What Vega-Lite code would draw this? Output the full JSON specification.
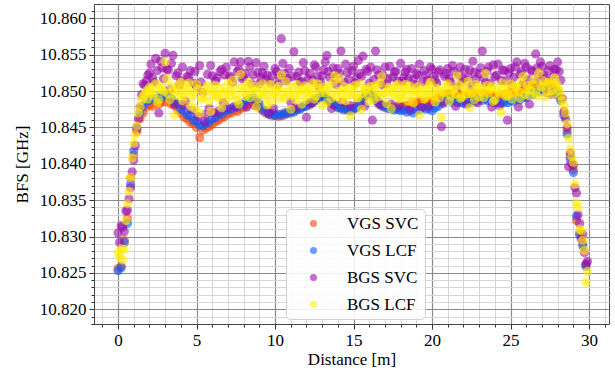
{
"$schema":"https://vega.github.io/schema/vega-lite/v6.json",
"width":515,"height":320,
"autosize":"none",
"padding":{"left":94,"top":4,"right":6,"bottom":48},
"background":"white",
"config":{"view":{"stroke":"#444","strokeWidth":1},"font":"Liberation Serif"},
"datasets":{
"vgs_svc":[{"x":0.0,"y":10.8256},{"x":0.2,"y":10.8259},{"x":0.4,"y":10.8295},{"x":0.6,"y":10.8325},{"x":0.8,"y":10.838},{"x":1.0,"y":10.8412},{"x":1.2,"y":10.8444},{"x":1.4,"y":10.8462},{"x":1.6,"y":10.847},{"x":1.8,"y":10.8478},{"x":2.0,"y":10.8481},{"x":2.2,"y":10.8479},{"x":2.4,"y":10.8484},{"x":2.6,"y":10.8482},{"x":2.8,"y":10.8486},{"x":3.0,"y":10.8485},{"x":3.2,"y":10.8489},{"x":3.4,"y":10.8482},{"x":3.6,"y":10.848},{"x":3.8,"y":10.8474},{"x":4.0,"y":10.847},{"x":4.2,"y":10.8464},{"x":4.4,"y":10.8462},{"x":4.6,"y":10.8457},{"x":4.8,"y":10.8455},{"x":5.0,"y":10.845},{"x":5.2,"y":10.8436},{"x":5.4,"y":10.8446},{"x":5.6,"y":10.8449},{"x":5.8,"y":10.8451},{"x":6.0,"y":10.8454},{"x":6.2,"y":10.8458},{"x":6.4,"y":10.846},{"x":6.6,"y":10.8463},{"x":6.8,"y":10.8465},{"x":7.0,"y":10.8469},{"x":7.2,"y":10.847},{"x":7.4,"y":10.8473},{"x":7.6,"y":10.8472},{"x":7.8,"y":10.8476},{"x":8.0,"y":10.8477},{"x":8.2,"y":10.848},{"x":8.4,"y":10.8484},{"x":8.6,"y":10.8485},{"x":8.8,"y":10.8482},{"x":9.0,"y":10.8478},{"x":9.2,"y":10.8473},{"x":9.4,"y":10.847},{"x":9.6,"y":10.8468},{"x":9.8,"y":10.8466},{"x":10.0,"y":10.8467},{"x":10.2,"y":10.8465},{"x":10.4,"y":10.8468},{"x":10.6,"y":10.8467},{"x":10.8,"y":10.8471},{"x":11.0,"y":10.847},{"x":11.2,"y":10.8473},{"x":11.4,"y":10.8474},{"x":11.6,"y":10.8477},{"x":11.8,"y":10.8478},{"x":12.0,"y":10.8481},{"x":12.2,"y":10.8481},{"x":12.4,"y":10.8486},{"x":12.6,"y":10.8487},{"x":12.8,"y":10.8491},{"x":13.0,"y":10.8492},{"x":13.2,"y":10.8491},{"x":13.4,"y":10.8486},{"x":13.6,"y":10.8485},{"x":13.8,"y":10.848},{"x":14.0,"y":10.8479},{"x":14.2,"y":10.8476},{"x":14.4,"y":10.8477},{"x":14.6,"y":10.8474},{"x":14.8,"y":10.8476},{"x":15.0,"y":10.8475},{"x":15.2,"y":10.8479},{"x":15.4,"y":10.8482},{"x":15.6,"y":10.849},{"x":15.8,"y":10.8494},{"x":16.0,"y":10.8498},{"x":16.2,"y":10.8493},{"x":16.4,"y":10.849},{"x":16.6,"y":10.8482},{"x":16.8,"y":10.8481},{"x":17.0,"y":10.8477},{"x":17.2,"y":10.8479},{"x":17.4,"y":10.8476},{"x":17.6,"y":10.8478},{"x":17.8,"y":10.8476},{"x":18.0,"y":10.8477},{"x":18.2,"y":10.8479},{"x":18.4,"y":10.848},{"x":18.6,"y":10.8482},{"x":18.8,"y":10.8485},{"x":19.0,"y":10.8484},{"x":19.2,"y":10.8486},{"x":19.4,"y":10.8484},{"x":19.6,"y":10.8486},{"x":19.8,"y":10.8485},{"x":20.0,"y":10.8487},{"x":20.2,"y":10.8488},{"x":20.4,"y":10.8491},{"x":20.6,"y":10.8494},{"x":20.8,"y":10.8495},{"x":21.0,"y":10.8497},{"x":21.2,"y":10.8495},{"x":21.4,"y":10.8496},{"x":21.6,"y":10.8493},{"x":21.8,"y":10.8495},{"x":22.0,"y":10.8494},{"x":22.2,"y":10.8496},{"x":22.4,"y":10.8495},{"x":22.6,"y":10.8497},{"x":22.8,"y":10.8496},{"x":23.0,"y":10.8498},{"x":23.2,"y":10.8496},{"x":23.4,"y":10.8497},{"x":23.6,"y":10.8495},{"x":23.8,"y":10.8494},{"x":24.0,"y":10.8492},{"x":24.2,"y":10.8494},{"x":24.4,"y":10.8493},{"x":24.6,"y":10.8495},{"x":24.8,"y":10.8496},{"x":25.0,"y":10.8498},{"x":25.2,"y":10.8497},{"x":25.4,"y":10.8499},{"x":25.6,"y":10.85},{"x":25.8,"y":10.8502},{"x":26.0,"y":10.8501},{"x":26.2,"y":10.8504},{"x":26.4,"y":10.8506},{"x":26.6,"y":10.8505},{"x":26.8,"y":10.8507},{"x":27.0,"y":10.8506},{"x":27.2,"y":10.8508},{"x":27.4,"y":10.8507},{"x":27.6,"y":10.8508},{"x":27.8,"y":10.8505},{"x":28.0,"y":10.85},{"x":28.2,"y":10.849},{"x":28.4,"y":10.847},{"x":28.6,"y":10.8445},{"x":28.8,"y":10.841},{"x":29.0,"y":10.8392},{"x":29.2,"y":10.8322},{"x":29.4,"y":10.8305},{"x":29.6,"y":10.829},{"x":29.8,"y":10.8262}],
"vgs_lcf":[{"x":0.0,"y":10.8253},{"x":0.2,"y":10.8257},{"x":0.4,"y":10.8292},{"x":0.6,"y":10.8318},{"x":0.8,"y":10.8372},{"x":1.0,"y":10.8418},{"x":1.2,"y":10.845},{"x":1.4,"y":10.847},{"x":1.6,"y":10.8479},{"x":1.8,"y":10.8486},{"x":2.0,"y":10.8487},{"x":2.2,"y":10.849},{"x":2.4,"y":10.8489},{"x":2.6,"y":10.8492},{"x":2.8,"y":10.8491},{"x":3.0,"y":10.8495},{"x":3.2,"y":10.8494},{"x":3.4,"y":10.849},{"x":3.6,"y":10.8485},{"x":3.8,"y":10.8482},{"x":4.0,"y":10.8475},{"x":4.2,"y":10.8473},{"x":4.4,"y":10.8467},{"x":4.6,"y":10.8466},{"x":4.8,"y":10.846},{"x":5.0,"y":10.8458},{"x":5.2,"y":10.8453},{"x":5.4,"y":10.8452},{"x":5.6,"y":10.8456},{"x":5.8,"y":10.8457},{"x":6.0,"y":10.8462},{"x":6.2,"y":10.8463},{"x":6.4,"y":10.8468},{"x":6.6,"y":10.8468},{"x":6.8,"y":10.8473},{"x":7.0,"y":10.8474},{"x":7.2,"y":10.8475},{"x":7.4,"y":10.8479},{"x":7.6,"y":10.8478},{"x":7.8,"y":10.8482},{"x":8.0,"y":10.8482},{"x":8.2,"y":10.8487},{"x":8.4,"y":10.8489},{"x":8.6,"y":10.8492},{"x":8.8,"y":10.8487},{"x":9.0,"y":10.8483},{"x":9.2,"y":10.8475},{"x":9.4,"y":10.8472},{"x":9.6,"y":10.8468},{"x":9.8,"y":10.8469},{"x":10.0,"y":10.8466},{"x":10.2,"y":10.8468},{"x":10.4,"y":10.8466},{"x":10.6,"y":10.847},{"x":10.8,"y":10.8469},{"x":11.0,"y":10.8472},{"x":11.2,"y":10.8471},{"x":11.4,"y":10.8475},{"x":11.6,"y":10.8475},{"x":11.8,"y":10.8479},{"x":12.0,"y":10.8479},{"x":12.2,"y":10.8483},{"x":12.4,"y":10.8484},{"x":12.6,"y":10.8489},{"x":12.8,"y":10.849},{"x":13.0,"y":10.8494},{"x":13.2,"y":10.8489},{"x":13.4,"y":10.8488},{"x":13.6,"y":10.8483},{"x":13.8,"y":10.8481},{"x":14.0,"y":10.8477},{"x":14.2,"y":10.8477},{"x":14.4,"y":10.8474},{"x":14.6,"y":10.8475},{"x":14.8,"y":10.8473},{"x":15.0,"y":10.8476},{"x":15.2,"y":10.8477},{"x":15.4,"y":10.8484},{"x":15.6,"y":10.8489},{"x":15.8,"y":10.8497},{"x":16.0,"y":10.8496},{"x":16.2,"y":10.8495},{"x":16.4,"y":10.8487},{"x":16.6,"y":10.8484},{"x":16.8,"y":10.8479},{"x":17.0,"y":10.8479},{"x":17.2,"y":10.8476},{"x":17.4,"y":10.8477},{"x":17.6,"y":10.8474},{"x":17.8,"y":10.8475},{"x":18.0,"y":10.8473},{"x":18.2,"y":10.8474},{"x":18.4,"y":10.8471},{"x":18.6,"y":10.8473},{"x":18.8,"y":10.847},{"x":19.0,"y":10.8474},{"x":19.2,"y":10.8474},{"x":19.4,"y":10.8477},{"x":19.6,"y":10.8475},{"x":19.8,"y":10.8476},{"x":20.0,"y":10.8473},{"x":20.2,"y":10.8477},{"x":20.4,"y":10.8479},{"x":20.6,"y":10.8485},{"x":20.8,"y":10.8486},{"x":21.0,"y":10.8489},{"x":21.2,"y":10.8486},{"x":21.4,"y":10.8487},{"x":21.6,"y":10.8484},{"x":21.8,"y":10.8485},{"x":22.0,"y":10.8483},{"x":22.2,"y":10.8485},{"x":22.4,"y":10.8484},{"x":22.6,"y":10.8487},{"x":22.8,"y":10.8486},{"x":23.0,"y":10.8489},{"x":23.2,"y":10.8487},{"x":23.4,"y":10.8489},{"x":23.6,"y":10.8486},{"x":23.8,"y":10.8487},{"x":24.0,"y":10.8484},{"x":24.2,"y":10.8485},{"x":24.4,"y":10.8483},{"x":24.6,"y":10.8485},{"x":24.8,"y":10.8484},{"x":25.0,"y":10.8487},{"x":25.2,"y":10.8486},{"x":25.4,"y":10.8489},{"x":25.6,"y":10.8488},{"x":25.8,"y":10.8491},{"x":26.0,"y":10.8491},{"x":26.2,"y":10.8495},{"x":26.4,"y":10.8495},{"x":26.6,"y":10.8499},{"x":26.8,"y":10.8499},{"x":27.0,"y":10.8502},{"x":27.2,"y":10.85},{"x":27.4,"y":10.8501},{"x":27.6,"y":10.8498},{"x":27.8,"y":10.8499},{"x":28.0,"y":10.8495},{"x":28.2,"y":10.8487},{"x":28.4,"y":10.8466},{"x":28.6,"y":10.8441},{"x":28.8,"y":10.8406},{"x":29.0,"y":10.8388},{"x":29.2,"y":10.8328},{"x":29.4,"y":10.8302},{"x":29.6,"y":10.8287},{"x":29.8,"y":10.8259}],
"bgs_svc":[{"x":0.0,"y":10.8305},{"x":0.2,"y":10.8315},{"x":0.4,"y":10.8307},{"x":0.6,"y":10.8336},{"x":0.8,"y":10.8367},{"x":1.0,"y":10.8405},{"x":1.2,"y":10.8448},{"x":1.4,"y":10.8478},{"x":1.6,"y":10.851},{"x":1.8,"y":10.8514},{"x":2.0,"y":10.8525},{"x":2.2,"y":10.8518},{"x":2.4,"y":10.8545},{"x":2.6,"y":10.847},{"x":2.8,"y":10.8532},{"x":3.0,"y":10.8552},{"x":3.2,"y":10.8529},{"x":3.4,"y":10.8538},{"x":3.6,"y":10.8482},{"x":3.8,"y":10.8525},{"x":4.0,"y":10.8514},{"x":4.2,"y":10.848},{"x":4.4,"y":10.852},{"x":4.6,"y":10.8528},{"x":4.8,"y":10.8511},{"x":5.0,"y":10.8506},{"x":5.2,"y":10.8535},{"x":5.4,"y":10.8498},{"x":5.6,"y":10.8468},{"x":5.8,"y":10.8476},{"x":6.0,"y":10.8521},{"x":6.2,"y":10.8514},{"x":6.4,"y":10.8472},{"x":6.6,"y":10.853},{"x":6.8,"y":10.8522},{"x":7.0,"y":10.8477},{"x":7.2,"y":10.8518},{"x":7.4,"y":10.854},{"x":7.6,"y":10.8527},{"x":7.8,"y":10.854},{"x":8.0,"y":10.8519},{"x":8.2,"y":10.8478},{"x":8.4,"y":10.8533},{"x":8.6,"y":10.8522},{"x":8.8,"y":10.8539},{"x":9.0,"y":10.851},{"x":9.2,"y":10.8525},{"x":9.4,"y":10.8516},{"x":9.6,"y":10.847},{"x":9.8,"y":10.8521},{"x":10.0,"y":10.8531},{"x":10.2,"y":10.8509},{"x":10.4,"y":10.8572},{"x":10.6,"y":10.8524},{"x":10.8,"y":10.8517},{"x":11.0,"y":10.8485},{"x":11.2,"y":10.8554},{"x":11.4,"y":10.852},{"x":11.6,"y":10.8512},{"x":11.8,"y":10.8539},{"x":12.0,"y":10.8464},{"x":12.2,"y":10.8524},{"x":12.4,"y":10.8515},{"x":12.6,"y":10.8533},{"x":12.8,"y":10.8506},{"x":13.0,"y":10.8521},{"x":13.2,"y":10.854},{"x":13.4,"y":10.8527},{"x":13.6,"y":10.8476},{"x":13.8,"y":10.8519},{"x":14.0,"y":10.8531},{"x":14.2,"y":10.8555},{"x":14.4,"y":10.8512},{"x":14.6,"y":10.8526},{"x":14.8,"y":10.848},{"x":15.0,"y":10.8534},{"x":15.2,"y":10.8518},{"x":15.4,"y":10.8524},{"x":15.6,"y":10.8548},{"x":15.8,"y":10.853},{"x":16.0,"y":10.8511},{"x":16.2,"y":10.846},{"x":16.4,"y":10.8555},{"x":16.6,"y":10.8522},{"x":16.8,"y":10.8509},{"x":17.0,"y":10.8533},{"x":17.2,"y":10.8517},{"x":17.4,"y":10.8482},{"x":17.6,"y":10.8526},{"x":17.8,"y":10.8514},{"x":18.0,"y":10.8538},{"x":18.2,"y":10.8519},{"x":18.4,"y":10.853},{"x":18.6,"y":10.8475},{"x":18.8,"y":10.8516},{"x":19.0,"y":10.8524},{"x":19.2,"y":10.8537},{"x":19.4,"y":10.8512},{"x":19.6,"y":10.8522},{"x":19.8,"y":10.8479},{"x":20.0,"y":10.853},{"x":20.2,"y":10.8515},{"x":20.4,"y":10.8526},{"x":20.6,"y":10.8451},{"x":20.8,"y":10.852},{"x":21.0,"y":10.8531},{"x":21.2,"y":10.8512},{"x":21.4,"y":10.8527},{"x":21.6,"y":10.8505},{"x":21.8,"y":10.8533},{"x":22.0,"y":10.8518},{"x":22.2,"y":10.8482},{"x":22.4,"y":10.8529},{"x":22.6,"y":10.8541},{"x":22.8,"y":10.8516},{"x":23.0,"y":10.8524},{"x":23.2,"y":10.8555},{"x":23.4,"y":10.8511},{"x":23.6,"y":10.8533},{"x":23.8,"y":10.8478},{"x":24.0,"y":10.852},{"x":24.2,"y":10.8537},{"x":24.4,"y":10.8515},{"x":24.6,"y":10.8528},{"x":24.8,"y":10.846},{"x":25.0,"y":10.8531},{"x":25.2,"y":10.8519},{"x":25.4,"y":10.854},{"x":25.6,"y":10.8523},{"x":25.8,"y":10.851},{"x":26.0,"y":10.8533},{"x":26.2,"y":10.8482},{"x":26.4,"y":10.8527},{"x":26.6,"y":10.8551},{"x":26.8,"y":10.852},{"x":27.0,"y":10.8534},{"x":27.2,"y":10.8517},{"x":27.4,"y":10.8528},{"x":27.6,"y":10.8496},{"x":27.8,"y":10.853},{"x":28.0,"y":10.854},{"x":28.2,"y":10.8515},{"x":28.4,"y":10.8472},{"x":28.6,"y":10.845},{"x":28.8,"y":10.8415},{"x":29.0,"y":10.8398},{"x":29.2,"y":10.836},{"x":29.4,"y":10.8318},{"x":29.6,"y":10.8303},{"x":29.8,"y":10.8262},
{"x":0.1,"y":10.8292},{"x":0.3,"y":10.8313},{"x":0.5,"y":10.8335},{"x":0.7,"y":10.8352},{"x":0.9,"y":10.8389},{"x":1.1,"y":10.8425},{"x":1.3,"y":10.8462},{"x":1.5,"y":10.8495},{"x":1.7,"y":10.8508},{"x":1.9,"y":10.8522},{"x":2.1,"y":10.8537},{"x":2.3,"y":10.8512},{"x":2.5,"y":10.8528},{"x":2.7,"y":10.8541},{"x":2.9,"y":10.8517},{"x":3.1,"y":10.853},{"x":3.3,"y":10.8502},{"x":3.5,"y":10.8549},{"x":3.7,"y":10.8521},{"x":3.9,"y":10.8508},{"x":4.1,"y":10.8533},{"x":4.3,"y":10.8486},{"x":4.5,"y":10.8519},{"x":4.7,"y":10.8474},{"x":4.9,"y":10.8527},{"x":5.1,"y":10.8465},{"x":5.3,"y":10.8512},{"x":5.5,"y":10.8458},{"x":5.7,"y":10.8523},{"x":5.9,"y":10.8535},{"x":6.1,"y":10.847},{"x":6.3,"y":10.8518},{"x":6.5,"y":10.8527},{"x":6.7,"y":10.8484},{"x":6.9,"y":10.8533},{"x":7.1,"y":10.8521},{"x":7.3,"y":10.8512},{"x":7.5,"y":10.8478},{"x":7.7,"y":10.853},{"x":7.9,"y":10.8517},{"x":8.1,"y":10.8524},{"x":8.3,"y":10.8541},{"x":8.5,"y":10.851},{"x":8.7,"y":10.848},{"x":8.9,"y":10.8526},{"x":9.1,"y":10.8518},{"x":9.3,"y":10.8534},{"x":9.5,"y":10.8522},{"x":9.7,"y":10.8511},{"x":9.9,"y":10.8476},{"x":10.1,"y":10.8527},{"x":10.3,"y":10.8519},{"x":10.5,"y":10.8538},{"x":10.7,"y":10.8514},{"x":10.9,"y":10.8531},{"x":11.1,"y":10.852},{"x":11.3,"y":10.8477},{"x":11.5,"y":10.8526},{"x":11.7,"y":10.8513},{"x":11.9,"y":10.8528},{"x":12.1,"y":10.8517},{"x":12.3,"y":10.8483},{"x":12.5,"y":10.8536},{"x":12.7,"y":10.8521},{"x":12.9,"y":10.8512},{"x":13.1,"y":10.8529},{"x":13.3,"y":10.8549},{"x":13.5,"y":10.8518},{"x":13.7,"y":10.8532},{"x":13.9,"y":10.8509},{"x":14.1,"y":10.8524},{"x":14.3,"y":10.8485},{"x":14.5,"y":10.8537},{"x":14.7,"y":10.8516},{"x":14.9,"y":10.8528},{"x":15.1,"y":10.8511},{"x":15.3,"y":10.8542},{"x":15.5,"y":10.852},{"x":15.7,"y":10.8479},{"x":15.9,"y":10.8527},{"x":16.1,"y":10.8533},{"x":16.3,"y":10.8516},{"x":16.5,"y":10.8529},{"x":16.7,"y":10.8482},{"x":16.9,"y":10.8521},{"x":17.1,"y":10.851},{"x":17.3,"y":10.8534},{"x":17.5,"y":10.8519},{"x":17.7,"y":10.8527},{"x":17.9,"y":10.848},{"x":18.1,"y":10.8513},{"x":18.3,"y":10.8526},{"x":18.5,"y":10.8518},{"x":18.7,"y":10.8531},{"x":18.9,"y":10.8509},{"x":19.1,"y":10.8522},{"x":19.3,"y":10.8477},{"x":19.5,"y":10.8528},{"x":19.7,"y":10.8515},{"x":19.9,"y":10.8533},{"x":20.1,"y":10.852},{"x":20.3,"y":10.8511},{"x":20.5,"y":10.8529},{"x":20.7,"y":10.8483},{"x":20.9,"y":10.8524},{"x":21.1,"y":10.8517},{"x":21.3,"y":10.8535},{"x":21.5,"y":10.8479},{"x":21.7,"y":10.8522},{"x":21.9,"y":10.8512},{"x":22.1,"y":10.853},{"x":22.3,"y":10.8519},{"x":22.5,"y":10.8507},{"x":22.7,"y":10.8526},{"x":22.9,"y":10.8484},{"x":23.1,"y":10.8532},{"x":23.3,"y":10.8518},{"x":23.5,"y":10.8527},{"x":23.7,"y":10.8511},{"x":23.9,"y":10.8536},{"x":24.1,"y":10.8522},{"x":24.3,"y":10.848},{"x":24.5,"y":10.8529},{"x":24.7,"y":10.8514},{"x":24.9,"y":10.8525},{"x":25.1,"y":10.8508},{"x":25.3,"y":10.8533},{"x":25.5,"y":10.8478},{"x":25.7,"y":10.8527},{"x":25.9,"y":10.8538},{"x":26.1,"y":10.8516},{"x":26.3,"y":10.8529},{"x":26.5,"y":10.8511},{"x":26.7,"y":10.8532},{"x":26.9,"y":10.854},{"x":27.1,"y":10.8522},{"x":27.3,"y":10.8498},{"x":27.5,"y":10.8535},{"x":27.7,"y":10.8519},{"x":27.9,"y":10.8529},{"x":28.1,"y":10.8527},{"x":28.3,"y":10.849},{"x":28.5,"y":10.8462},{"x":28.7,"y":10.8396},{"x":28.9,"y":10.84},{"x":29.1,"y":10.8367},{"x":29.3,"y":10.833},{"x":29.5,"y":10.8297},{"x":29.7,"y":10.8278},{"x":29.9,"y":10.8266}],
"bgs_lcf":[{"x":0.0,"y":10.8278},{"x":0.2,"y":10.8283},{"x":0.4,"y":10.8282},{"x":0.6,"y":10.8345},{"x":0.8,"y":10.8381},{"x":1.0,"y":10.8428},{"x":1.2,"y":10.8452},{"x":1.4,"y":10.8478},{"x":1.6,"y":10.8492},{"x":1.8,"y":10.85},{"x":2.0,"y":10.8505},{"x":2.2,"y":10.8494},{"x":2.4,"y":10.851},{"x":2.6,"y":10.8488},{"x":2.8,"y":10.8502},{"x":3.0,"y":10.854},{"x":3.2,"y":10.8496},{"x":3.4,"y":10.8507},{"x":3.6,"y":10.8467},{"x":3.8,"y":10.85},{"x":4.0,"y":10.8512},{"x":4.2,"y":10.8493},{"x":4.4,"y":10.8504},{"x":4.6,"y":10.848},{"x":4.8,"y":10.8498},{"x":5.0,"y":10.8509},{"x":5.2,"y":10.847},{"x":5.4,"y":10.8491},{"x":5.6,"y":10.8503},{"x":5.8,"y":10.8486},{"x":6.0,"y":10.8497},{"x":6.2,"y":10.8508},{"x":6.4,"y":10.849},{"x":6.6,"y":10.8477},{"x":6.8,"y":10.85},{"x":7.0,"y":10.8511},{"x":7.2,"y":10.8494},{"x":7.4,"y":10.8505},{"x":7.6,"y":10.8487},{"x":7.8,"y":10.8523},{"x":8.0,"y":10.8499},{"x":8.2,"y":10.8508},{"x":8.4,"y":10.8491},{"x":8.6,"y":10.8502},{"x":8.8,"y":10.8478},{"x":9.0,"y":10.8496},{"x":9.2,"y":10.851},{"x":9.4,"y":10.8492},{"x":9.6,"y":10.8503},{"x":9.8,"y":10.8485},{"x":10.0,"y":10.8497},{"x":10.2,"y":10.8506},{"x":10.4,"y":10.8522},{"x":10.6,"y":10.849},{"x":10.8,"y":10.85},{"x":11.0,"y":10.8475},{"x":11.2,"y":10.8494},{"x":11.4,"y":10.8509},{"x":11.6,"y":10.8496},{"x":11.8,"y":10.8503},{"x":12.0,"y":10.8488},{"x":12.2,"y":10.8499},{"x":12.4,"y":10.8511},{"x":12.6,"y":10.8493},{"x":12.8,"y":10.8504},{"x":13.0,"y":10.848},{"x":13.2,"y":10.8497},{"x":13.4,"y":10.8508},{"x":13.6,"y":10.849},{"x":13.8,"y":10.8521},{"x":14.0,"y":10.85},{"x":14.2,"y":10.8488},{"x":14.4,"y":10.8506},{"x":14.6,"y":10.8495},{"x":14.8,"y":10.8466},{"x":15.0,"y":10.8502},{"x":15.2,"y":10.8491},{"x":15.4,"y":10.851},{"x":15.6,"y":10.8497},{"x":15.8,"y":10.8504},{"x":16.0,"y":10.8486},{"x":16.2,"y":10.8499},{"x":16.4,"y":10.8508},{"x":16.6,"y":10.8492},{"x":16.8,"y":10.852},{"x":17.0,"y":10.8496},{"x":17.2,"y":10.8505},{"x":17.4,"y":10.8476},{"x":17.6,"y":10.8498},{"x":17.8,"y":10.8509},{"x":18.0,"y":10.849},{"x":18.2,"y":10.8502},{"x":18.4,"y":10.8495},{"x":18.6,"y":10.8507},{"x":18.8,"y":10.8484},{"x":19.0,"y":10.8499},{"x":19.2,"y":10.8467},{"x":19.4,"y":10.8503},{"x":19.6,"y":10.8492},{"x":19.8,"y":10.8508},{"x":20.0,"y":10.8496},{"x":20.2,"y":10.8485},{"x":20.4,"y":10.8501},{"x":20.6,"y":10.8464},{"x":20.8,"y":10.8497},{"x":21.0,"y":10.851},{"x":21.2,"y":10.8493},{"x":21.4,"y":10.8503},{"x":21.6,"y":10.8521},{"x":21.8,"y":10.849},{"x":22.0,"y":10.8505},{"x":22.2,"y":10.8496},{"x":22.4,"y":10.8477},{"x":22.6,"y":10.85},{"x":22.8,"y":10.8509},{"x":23.0,"y":10.8492},{"x":23.2,"y":10.8503},{"x":23.4,"y":10.8524},{"x":23.6,"y":10.8497},{"x":23.8,"y":10.8506},{"x":24.0,"y":10.8488},{"x":24.2,"y":10.8499},{"x":24.4,"y":10.8471},{"x":24.6,"y":10.8503},{"x":24.8,"y":10.8494},{"x":25.0,"y":10.851},{"x":25.2,"y":10.8497},{"x":25.4,"y":10.8505},{"x":25.6,"y":10.849},{"x":25.8,"y":10.852},{"x":26.0,"y":10.8502},{"x":26.2,"y":10.8494},{"x":26.4,"y":10.8509},{"x":26.6,"y":10.8498},{"x":26.8,"y":10.8525},{"x":27.0,"y":10.8505},{"x":27.2,"y":10.8492},{"x":27.4,"y":10.8512},{"x":27.6,"y":10.85},{"x":27.8,"y":10.8518},{"x":28.0,"y":10.8506},{"x":28.2,"y":10.8493},{"x":28.4,"y":10.848},{"x":28.6,"y":10.8455},{"x":28.8,"y":10.842},{"x":29.0,"y":10.8402},{"x":29.2,"y":10.8346},{"x":29.4,"y":10.831},{"x":29.6,"y":10.8295},{"x":29.8,"y":10.8237},
{"x":0.1,"y":10.8272},{"x":0.3,"y":10.8268},{"x":0.5,"y":10.8322},{"x":0.7,"y":10.8362},{"x":0.9,"y":10.8408},{"x":1.1,"y":10.844},{"x":1.3,"y":10.847},{"x":1.5,"y":10.8487},{"x":1.7,"y":10.8496},{"x":1.9,"y":10.8489},{"x":2.1,"y":10.8503},{"x":2.3,"y":10.8497},{"x":2.5,"y":10.8484},{"x":2.7,"y":10.8506},{"x":2.9,"y":10.8499},{"x":3.1,"y":10.8517},{"x":3.3,"y":10.8488},{"x":3.5,"y":10.8501},{"x":3.7,"y":10.8494},{"x":3.9,"y":10.8508},{"x":4.1,"y":10.8487},{"x":4.3,"y":10.8499},{"x":4.5,"y":10.8511},{"x":4.7,"y":10.8492},{"x":4.9,"y":10.8476},{"x":5.1,"y":10.8503},{"x":5.3,"y":10.8489},{"x":5.5,"y":10.8497},{"x":5.7,"y":10.8508},{"x":5.9,"y":10.8472},{"x":6.1,"y":10.8499},{"x":6.3,"y":10.8493},{"x":6.5,"y":10.8504},{"x":6.7,"y":10.8496},{"x":6.9,"y":10.8487},{"x":7.1,"y":10.85},{"x":7.3,"y":10.8515},{"x":7.5,"y":10.8495},{"x":7.7,"y":10.8482},{"x":7.9,"y":10.8505},{"x":8.1,"y":10.8493},{"x":8.3,"y":10.8512},{"x":8.5,"y":10.8498},{"x":8.7,"y":10.8506},{"x":8.9,"y":10.8489},{"x":9.1,"y":10.8502},{"x":9.3,"y":10.8497},{"x":9.5,"y":10.8481},{"x":9.7,"y":10.8509},{"x":9.9,"y":10.8495},{"x":10.1,"y":10.8503},{"x":10.3,"y":10.849},{"x":10.5,"y":10.8499},{"x":10.7,"y":10.8513},{"x":10.9,"y":10.8494},{"x":11.1,"y":10.8505},{"x":11.3,"y":10.8488},{"x":11.5,"y":10.85},{"x":11.7,"y":10.8482},{"x":11.9,"y":10.8507},{"x":12.1,"y":10.8496},{"x":12.3,"y":10.8502},{"x":12.5,"y":10.8489},{"x":12.7,"y":10.851},{"x":12.9,"y":10.8498},{"x":13.1,"y":10.8505},{"x":13.3,"y":10.8484},{"x":13.5,"y":10.85},{"x":13.7,"y":10.8512},{"x":13.9,"y":10.8493},{"x":14.1,"y":10.8517},{"x":14.3,"y":10.8499},{"x":14.5,"y":10.8487},{"x":14.7,"y":10.8504},{"x":14.9,"y":10.8496},{"x":15.1,"y":10.8508},{"x":15.3,"y":10.8491},{"x":15.5,"y":10.8475},{"x":15.7,"y":10.8501},{"x":15.9,"y":10.8494},{"x":16.1,"y":10.8506},{"x":16.3,"y":10.8488},{"x":16.5,"y":10.85},{"x":16.7,"y":10.8511},{"x":16.9,"y":10.8497},{"x":17.1,"y":10.8483},{"x":17.3,"y":10.8503},{"x":17.5,"y":10.8495},{"x":17.7,"y":10.8507},{"x":17.9,"y":10.849},{"x":18.1,"y":10.8498},{"x":18.3,"y":10.8509},{"x":18.5,"y":10.8486},{"x":18.7,"y":10.8501},{"x":18.9,"y":10.8494},{"x":19.1,"y":10.8506},{"x":19.3,"y":10.8497},{"x":19.5,"y":10.8489},{"x":19.7,"y":10.85},{"x":19.9,"y":10.8512},{"x":20.1,"y":10.8493},{"x":20.3,"y":10.8504},{"x":20.5,"y":10.8491},{"x":20.7,"y":10.8499},{"x":20.9,"y":10.8507},{"x":21.1,"y":10.8486},{"x":21.3,"y":10.8501},{"x":21.5,"y":10.8496},{"x":21.7,"y":10.8509},{"x":21.9,"y":10.8492},{"x":22.1,"y":10.8503},{"x":22.3,"y":10.8513},{"x":22.5,"y":10.8497},{"x":22.7,"y":10.8488},{"x":22.9,"y":10.8505},{"x":23.1,"y":10.8499},{"x":23.3,"y":10.8491},{"x":23.5,"y":10.8508},{"x":23.7,"y":10.8502},{"x":23.9,"y":10.8486},{"x":24.1,"y":10.8504},{"x":24.3,"y":10.8497},{"x":24.5,"y":10.8511},{"x":24.7,"y":10.8493},{"x":24.9,"y":10.8503},{"x":25.1,"y":10.8489},{"x":25.3,"y":10.8507},{"x":25.5,"y":10.8499},{"x":25.7,"y":10.8512},{"x":25.9,"y":10.8495},{"x":26.1,"y":10.8508},{"x":26.3,"y":10.8501},{"x":26.5,"y":10.8516},{"x":26.7,"y":10.8493},{"x":26.9,"y":10.8507},{"x":27.1,"y":10.8514},{"x":27.3,"y":10.8499},{"x":27.5,"y":10.8509},{"x":27.7,"y":10.8496},{"x":27.9,"y":10.8511},{"x":28.1,"y":10.85},{"x":28.3,"y":10.8487},{"x":28.5,"y":10.847},{"x":28.7,"y":10.8435},{"x":28.9,"y":10.841},{"x":29.1,"y":10.8372},{"x":29.3,"y":10.834},{"x":29.5,"y":10.8308},{"x":29.7,"y":10.8281},{"x":29.9,"y":10.8252}]
},
"encoding":{
"x":{"field":"x","type":"quantitative","scale":{"domain":[-1.53,31.27],"nice":false,"zero":false},
"axis":{"title":"Distance [m]","values":[-1,0,1,2,3,4,5,6,7,8,9,10,11,12,13,14,15,16,17,18,19,20,21,22,23,24,25,26,27,28,29,30,31],
"grid":true,"gridColor":{"condition":{"test":"datum.value % 5 === 0","value":"#8a8a8a"},"value":"#d6d6d6"},
"gridWidth":{"condition":{"test":"datum.value % 5 === 0","value":1.2},"value":1},
"tickSize":{"condition":{"test":"datum.value % 5 === 0","value":5},"value":3},
"labelExpr":"datum.value % 5 === 0 ? datum.label : ''",
"labelFont":"Liberation Serif","labelFontSize":17,"labelColor":"black","labelPadding":3,"labelOverlap":false,"labelFlush":false,
"tickColor":"#333","domainColor":"#444",
"titleFont":"Liberation Serif","titleFontSize":17,"titleFontWeight":"normal","titleColor":"black","titlePadding":3}},
"y":{"field":"y","type":"quantitative","scale":{"domain":[10.81798,10.86197],"nice":false,"zero":false},
"axis":{"title":"BFS [GHz]","values":[10.818,10.819,10.82,10.821,10.822,10.823,10.824,10.825,10.826,10.827,10.828,10.829,10.83,10.831,10.832,10.833,10.834,10.835,10.836,10.837,10.838,10.839,10.84,10.841,10.842,10.843,10.844,10.845,10.846,10.847,10.848,10.849,10.85,10.851,10.852,10.853,10.854,10.855,10.856,10.857,10.858,10.859,10.86,10.861,10.862],
"grid":true,"gridColor":{"condition":{"test":"abs(datum.value*200-round(datum.value*200))<0.01","value":"#8a8a8a"},"value":"#d6d6d6"},
"gridWidth":{"condition":{"test":"abs(datum.value*200-round(datum.value*200))<0.01","value":1.2},"value":1},
"tickSize":{"condition":{"test":"abs(datum.value*200-round(datum.value*200))<0.01","value":5},"value":3},
"labelExpr":"abs(datum.value*200-round(datum.value*200))<0.01 ? format(datum.value,'.3f') : ''",
"labelFont":"Liberation Serif","labelFontSize":17,"labelColor":"black","labelPadding":3,"labelOverlap":false,"labelFlush":false,
"tickColor":"#333","domainColor":"#444",
"titleFont":"Liberation Serif","titleFontSize":17,"titleFontWeight":"normal","titleColor":"black","titlePadding":8}}
},
"layer":[
{"data":{"name":"vgs_svc"},"mark":{"type":"circle","size":85,"opacity":0.6},
"encoding":{"color":{"datum":"VGS SVC","type":"nominal","scale":{"domain":["VGS SVC","VGS LCF","BGS SVC","BGS LCF"],"range":["#FF4500","#0A5AFF","#9A0CA8","#FFEE00"]},
"legend":{"title":null,"orient":"none","legendX":192,"legendY":205,"padding":6,"fillColor":"rgba(255,255,255,0.85)","strokeColor":"#d0d0d0","cornerRadius":4,"labelFont":"Liberation Serif","labelFontSize":17,"labelColor":"black","symbolType":"circle","symbolSize":50,"symbolOpacity":0.7,"symbolStrokeWidth":0,"symbolOffset":13,"labelOffset":25,"rowPadding":9}}}},
{"data":{"name":"vgs_lcf"},"mark":{"type":"circle","size":85,"opacity":0.6},"encoding":{"color":{"datum":"VGS LCF","type":"nominal"}}},
{"data":{"name":"bgs_svc"},"mark":{"type":"circle","size":85,"opacity":0.6},"encoding":{"color":{"datum":"BGS SVC","type":"nominal"}}},
{"data":{"name":"bgs_lcf"},"mark":{"type":"circle","size":85,"opacity":0.6},"encoding":{"color":{"datum":"BGS LCF","type":"nominal"}}}
]
}
